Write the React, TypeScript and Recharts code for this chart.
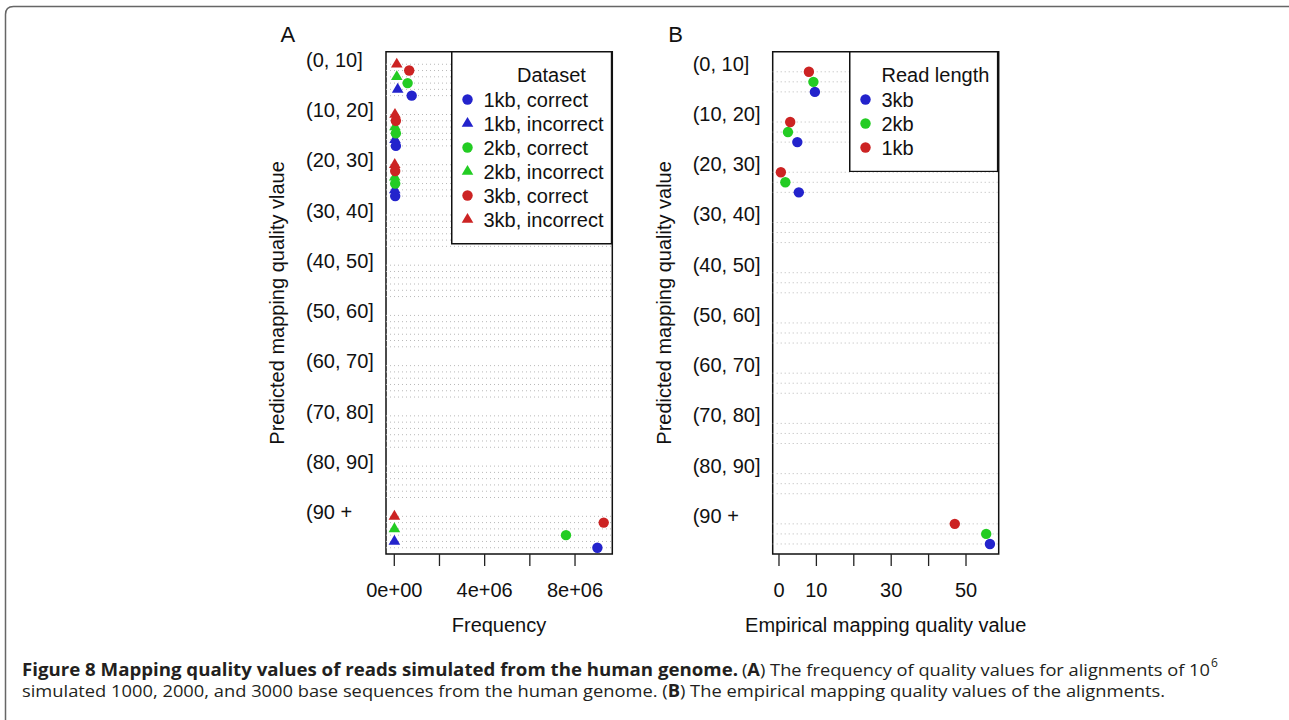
import React from 'react';
import {
  ScatterChart,
  Scatter,
  XAxis,
  YAxis,
  ReferenceLine,
  ReferenceArea,
  Legend,
} from 'recharts';

const FONT = '"Liberation Sans", Arial, Helvetica, sans-serif';
const BLUE = '#2323cc';
const GREEN = '#23cc23';
const RED = '#cc2323';

const groups = ['(0, 10]', '(10, 20]', '(20, 30]', '(30, 40]', '(40, 50]', '(50, 60]', '(60, 70]', '(70, 80]', '(80, 90]', '(90 +'];

// Panel A: frequency of alignments per predicted quality bin (null = no point)
const freq1kbCorrect = [770000, 70000, 40000, null, null, null, null, null, null, 8990000];
const freq1kbIncorrect = [150000, 30000, 20000, null, null, null, null, null, null, 5000];
const freq2kbCorrect = [590000, 70000, 40000, null, null, null, null, null, null, 7600000];
const freq2kbIncorrect = [110000, 30000, 20000, null, null, null, null, null, null, 5000];
const freq3kbCorrect = [660000, 70000, 40000, null, null, null, null, null, null, 9270000];
const freq3kbIncorrect = [110000, 30000, 20000, null, null, null, null, null, null, 5000];

// Panel B: empirical mapping quality per predicted quality bin
const emp3kb = [9.6, 4.9, 5.3, null, null, null, null, null, null, 56.4];
const emp2kb = [9.2, 2.4, 1.7, null, null, null, null, null, null, 55.4];
const emp1kb = [8.0, 3.0, 0.5, null, null, null, null, null, null, 47.0];

const xTicksA = [0, 2000000, 4000000, 6000000, 8000000];
const xTickLabelsA = ['0e+00', '', '4e+06', '', '8e+06'];
const xTicksB = [0, 10, 20, 30, 40, 50];
const xTickLabelsB = ['0', '10', '', '30', '', '50'];

type Series = { name: string; values: (number | null)[]; color: string; shape: 'circle' | 'triangle' };

// listed bottom-to-top inside each group, like R's dotchart
const seriesA: Series[] = [
  { name: '1kb, correct', values: freq1kbCorrect, color: BLUE, shape: 'circle' },
  { name: '1kb, incorrect', values: freq1kbIncorrect, color: BLUE, shape: 'triangle' },
  { name: '2kb, correct', values: freq2kbCorrect, color: GREEN, shape: 'circle' },
  { name: '2kb, incorrect', values: freq2kbIncorrect, color: GREEN, shape: 'triangle' },
  { name: '3kb, correct', values: freq3kbCorrect, color: RED, shape: 'circle' },
  { name: '3kb, incorrect', values: freq3kbIncorrect, color: RED, shape: 'triangle' },
];

const seriesB: Series[] = [
  { name: '3kb', values: emp3kb, color: BLUE, shape: 'circle' },
  { name: '2kb', values: emp2kb, color: GREEN, shape: 'circle' },
  { name: '1kb', values: emp1kb, color: RED, shape: 'circle' },
];

// dotchart layout: each group takes n rows + 2 spacer rows, label one row above the top item
const rowOf = (g: number, slot: number, n: number) => (groups.length - 1 - g) * (n + 2) + slot;
const rowsFor = (n: number) => groups.flatMap((_, g) => Array.from({ length: n }, (_, i) => rowOf(g, i + 1, n)));
const labelRows = (n: number) => groups.map((_, g) => rowOf(g, n + 1, n));
const pointsFor = (s: Series, idx: number, n: number) =>
  s.values.flatMap((v, g) => (v == null ? [] : [{ x: v, row: rowOf(g, idx + 1, n) }]));

const Marker = ({ cx, cy, color, shape }: { cx: number; cy: number; color: string; shape: string }) =>
  shape === 'triangle' ? (
    <polygon points={`${cx},${cy - 6.6} ${cx + 5.8},${cy + 3.3} ${cx - 5.8},${cy + 3.3}`} fill={color} />
  ) : (
    <circle cx={cx} cy={cy} r={5.2} fill={color} />
  );

const groupTick = (labelX: number, ticks: number[]) => (props: any) => {
  const i = ticks.indexOf(props.payload.value);
  return (
    <text x={labelX} y={props.y + 9} textAnchor="start" fontSize={20} fontFamily={FONT} fill="#111">
      {groups[i]}
    </text>
  );
};

const LegendBox = ({ title, titleX, entries, width, height }: any) => (
  <svg width={width} height={height} style={{ display: 'block' }}>
    <rect x={0.75} y={0.75} width={width - 1.5} height={height - 1.5} fill="#fff" stroke="#111" strokeWidth={1.5} />
    <text x={titleX} y={31} fontSize={20} fontFamily={FONT} fill="#111">{title}</text>
    {entries.map((s: Series, i: number) => (
      <g key={s.name}>
        <Marker cx={16.5} cy={48.5 + i * 24} color={s.color} shape={s.shape} />
        <text x={32.5} y={48.5 + i * 24 + 7} fontSize={20} fontFamily={FONT} fill="#111">{s.name}</text>
      </g>
    ))}
  </svg>
);

const Panel = ({ series, xDomain, xTicks, xLabels, left, right, legendTitle, legendTitleX, legendEntries, legendSize }: any) => {
  const n = series.length;
  const ticks = labelRows(n);
  const yMax = groups.length * (n + 2);
  return (
    <div style={{ position: 'absolute', left: 0, top: 0 }}>
      <ScatterChart width={1289} height={720} margin={{ top: 51.7, right: 1289 - right, bottom: 106, left: left - 80 }}>
        <XAxis
          type="number"
          dataKey="x"
          domain={xDomain}
          allowDataOverflow
          ticks={xTicks}
          interval={0}
          tickFormatter={(v: number) => xLabels[xTicks.indexOf(v)] ?? ''}
          axisLine={false}
          tickSize={12}
          tickMargin={17}
          tickLine={{ stroke: '#222', strokeWidth: 1.3 }}
          tick={{ fill: '#111', fontSize: 20, fontFamily: FONT }}
          height={60}
        />
        <YAxis
          type="number"
          dataKey="row"
          domain={[0, yMax]}
          allowDataOverflow
          ticks={ticks}
          interval={0}
          axisLine={false}
          tickLine={false}
          width={80}
          tick={groupTick(left - 80, ticks)}
        />
        {rowsFor(n).map((r) => (
          <ReferenceLine key={r} y={r} stroke="#b8b8b8" strokeDasharray="1 3" strokeWidth={1} />
        ))}
        {series.map((s: Series, i: number) => (
          <Scatter
            key={s.name}
            name={s.name}
            data={pointsFor(s, i, n)}
            fill={s.color}
            isAnimationActive={false}
            shape={(p: any) => <Marker cx={p.cx} cy={p.cy} color={s.color} shape={s.shape} />}
          />
        ))}
        <ReferenceArea
          x1={xDomain[0]}
          x2={xDomain[1]}
          y1={0}
          y2={yMax}
          fill="none"
          fillOpacity={0}
          stroke="#111"
          strokeWidth={1.5}
          ifOverflow="visible"
        />
        <Legend
          layout="vertical"
          align="center"
          verticalAlign="middle"
          wrapperStyle={{ left: right - legendSize[0], top: 51, width: legendSize[0], height: legendSize[1] }}
          content={() => (
            <LegendBox title={legendTitle} titleX={legendTitleX} entries={legendEntries} width={legendSize[0]} height={legendSize[1]} />
          )}
        />
      </ScatterChart>
    </div>
  );
};

const legendOrderA = seriesA;
const legendOrderB = seriesB;

export default function App() {
  return (
    <div style={{ position: 'absolute', left: 0, top: 0, width: 1289, height: 720, background: '#fff', fontFamily: FONT }}>
      <Panel
        series={seriesA}
        xDomain={[-367000, 9650000]}
        xTicks={xTicksA}
        xLabels={xTickLabelsA}
        left={386}
        right={612.3}
        legendTitle="Dataset"
        legendTitleX={66}
        legendEntries={legendOrderA}
        legendSize={[161.3, 193.5]}
      />
      <Panel
        series={seriesB}
        xDomain={[-1.68, 58.74]}
        xTicks={xTicksB}
        xLabels={xTickLabelsB}
        left={772.7}
        right={998.7}
        legendTitle="Read length"
        legendTitleX={32.5}
        legendEntries={legendOrderB}
        legendSize={[149.4, 121.3]}
      />
      <svg width={1289} height={720} style={{ position: 'absolute', left: 0, top: 0, pointerEvents: 'none' }}>
        <path d="M5.5,720 L5.5,14.5 Q5.5,6.5 13.5,6.5 L1289,6.5" fill="none" stroke="#666" strokeWidth={1.5} />
        <g fontFamily={FONT} fill="#111">
          <text x={280.5} y={41.7} fontSize={22}>A</text>
          <text x={668.3} y={41.7} fontSize={22}>B</text>
          <text x={499} y={631.7} fontSize={20} textAnchor="middle">Frequency</text>
          <text x={885.7} y={631.7} fontSize={20} textAnchor="middle">Empirical mapping quality value</text>
          <text transform="translate(284.3,302.9) rotate(-90)" fontSize={20} textAnchor="middle">Predicted mapping quality vlaue</text>
          <text transform="translate(671,302.9) rotate(-90)" fontSize={20} textAnchor="middle">Predicted mapping quality value</text>
        </g>
        <g fontFamily='"Open Sans", "Noto Sans", sans-serif' fill="#231f20" fontSize={17}>
          <text x={22} y={676} fontWeight="bold" textLength={716} lengthAdjust="spacingAndGlyphs">
            Figure 8 Mapping quality values of reads simulated from the human genome.
          </text>
          <text x={742} y={676} textLength={468} lengthAdjust="spacingAndGlyphs">
            (<tspan fontWeight="bold">A</tspan>) The frequency of quality values for alignments of 10
          </text>
          <text x={1211} y={667} fontSize={12}>6</text>
          <text x={22} y={697} textLength={1143} lengthAdjust="spacingAndGlyphs">
            simulated 1000, 2000, and 3000 base sequences from the human genome. (<tspan fontWeight="bold">B</tspan>) The empirical mapping quality values of the alignments.
          </text>
        </g>
      </svg>
    </div>
  );
}
